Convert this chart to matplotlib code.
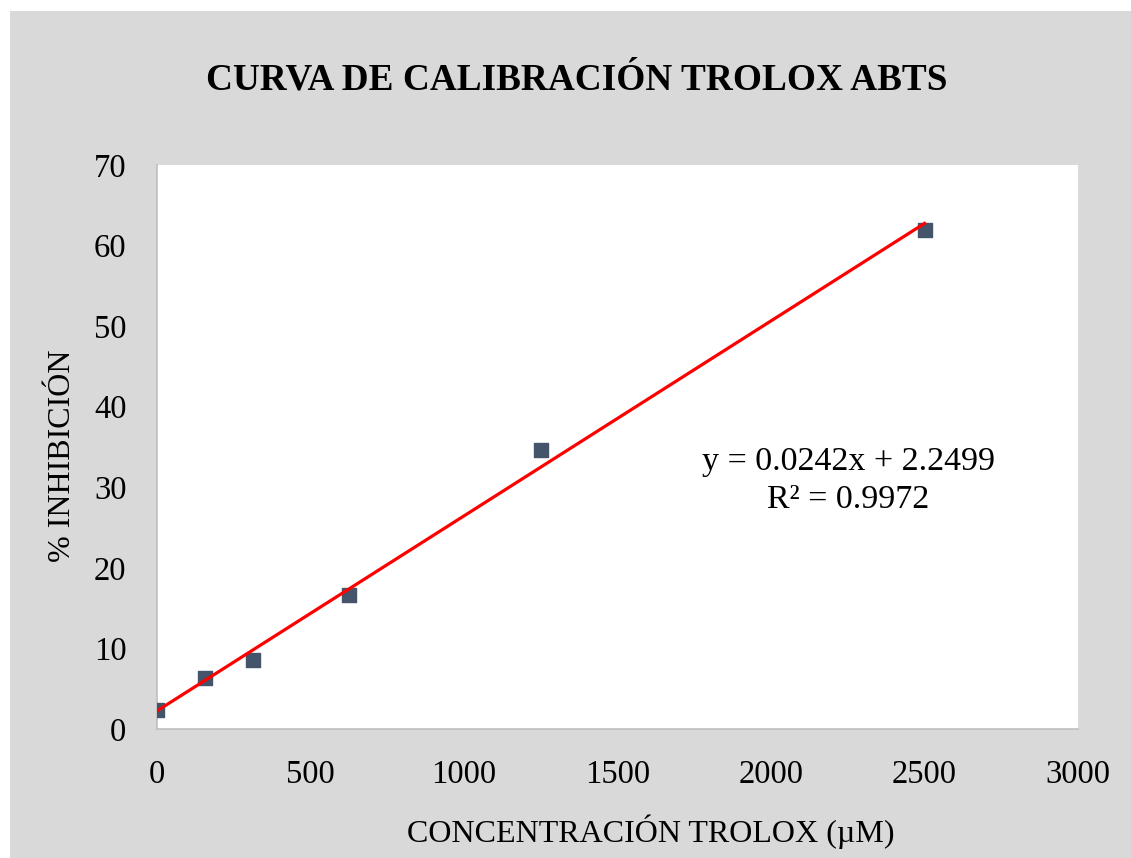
import matplotlib
matplotlib.use("Agg")
import matplotlib.pyplot as plt
from matplotlib.patches import Rectangle
import numpy as np

# Trolox standards (µM) and measured ABTS inhibition (%)
concentration = [0, 156.25, 312.5, 625, 1250, 2500]
inhibition = [2.3, 6.3, 8.6, 16.6, 34.6, 61.9]

# Linear fit reported for the curve
slope = 0.0242
intercept = 2.2499
r_squared = 0.9972

x_ticks = [0, 500, 1000, 1500, 2000, 2500, 3000]
y_ticks = [0, 10, 20, 30, 40, 50, 60, 70]

plt.rcParams['font.family'] = ['Liberation Serif', 'DejaVu Serif']

W, H = 1131, 858
fig = plt.figure(figsize=(W / 100, H / 100), dpi=100, facecolor='white')

# grey chart area
fig.patches.append(Rectangle((10 / W, 0), 1 - 10 / W, 1 - 11 / H,
                             transform=fig.transFigure, facecolor='#D9D9D9',
                             edgecolor='none', zorder=-10))

left, right, top, bottom = 157, 1078, 165, 729
ax = fig.add_axes([left / W, 1 - bottom / H, (right - left) / W, (bottom - top) / H])
ax.set_facecolor('white')

ax.scatter(concentration, inhibition, marker='s', s=110, color='#44546A',
           edgecolors='#44546A', zorder=3)

fit_x = np.array([concentration[0], concentration[-1]])
ax.plot(fit_x, slope * fit_x + intercept, color='#FF0000', lw=2.3, zorder=4)

ax.set_xlim(0, 3000)
ax.set_ylim(0, 70)
ax.set_xticks(x_ticks)
ax.set_yticks(y_ticks)
ax.tick_params(length=0, labelsize=23.5, colors='black')
ax.tick_params(axis='x', pad=22)
ax.tick_params(axis='y', pad=22)

for side in ('top', 'right'):
    ax.spines[side].set_visible(False)
for side in ('left', 'bottom'):
    ax.spines[side].set_color('#BFBFBF')
    ax.spines[side].set_linewidth(1.2)

ax.text(2252, 30.8, f"y = {slope}x + {intercept}\nR² = {r_squared}",
        fontsize=24.5, ha='center', va='center', linespacing=1.3)

fig.text(577 / W, 1 - 80 / H, "CURVA DE CALIBRACIÓN TROLOX ABTS",
         fontsize=26.8, fontweight='bold', ha='center', va='center')
fig.text(651 / W, 1 - 832 / H, "CONCENTRACIÓN TROLOX (µM)",
         fontsize=23, ha='center', va='center')
fig.text(62 / W, 1 - 456 / H, "% INHIBICIÓN",
         fontsize=23, ha='center', va='center', rotation=90)

fig.savefig("out.png", dpi=100, facecolor=fig.get_facecolor())
